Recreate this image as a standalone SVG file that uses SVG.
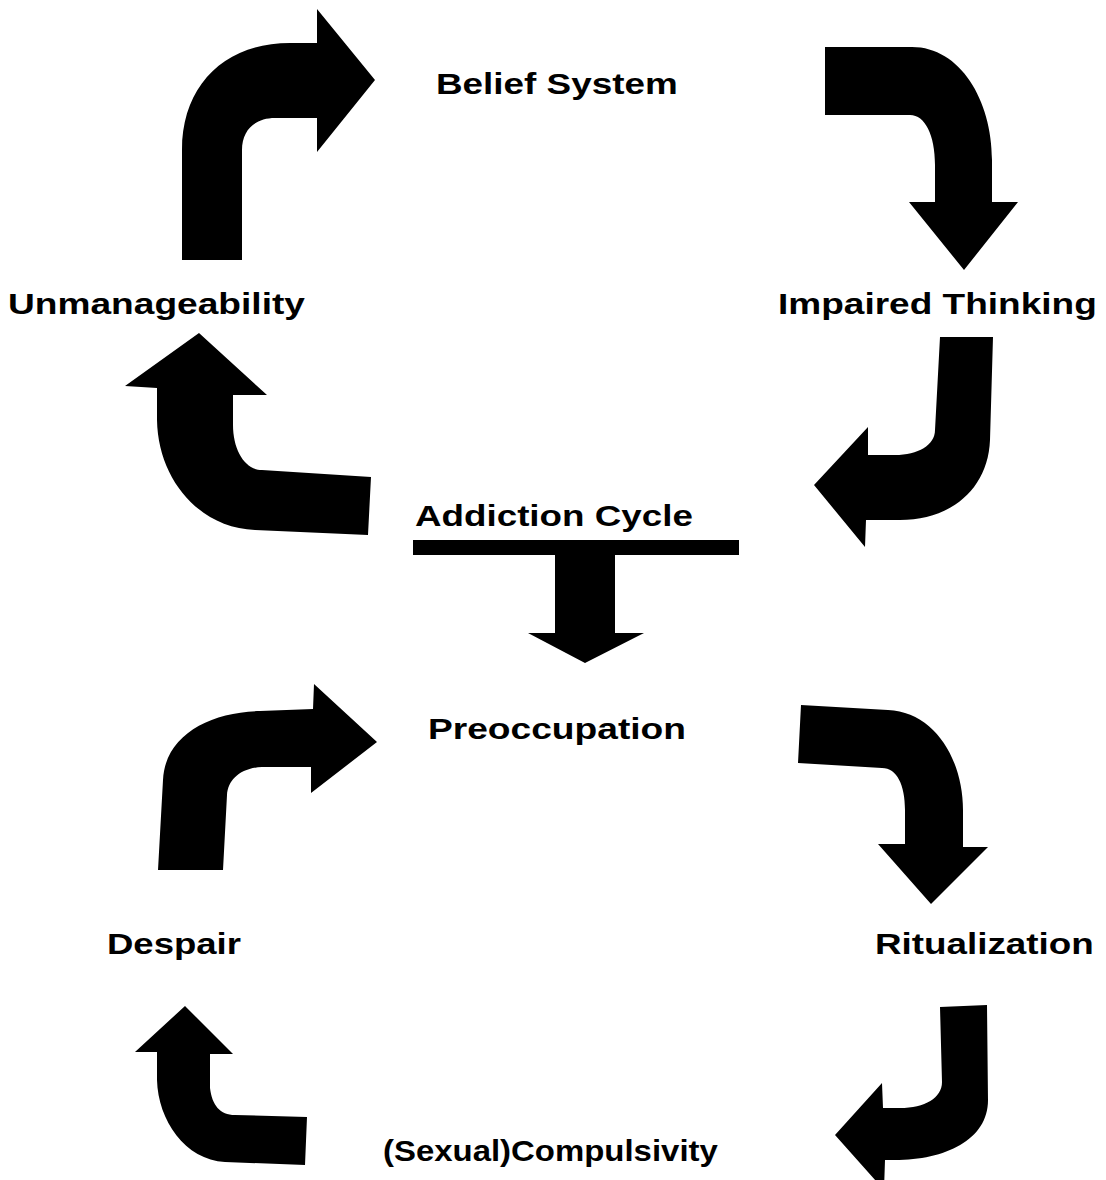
<svg xmlns="http://www.w3.org/2000/svg" width="1106" height="1180" viewBox="0 0 1106 1180">
<style>
.lbl{font-family:"Liberation Sans",Arial,sans-serif;font-weight:bold;font-size:29px;fill:#000}
.arr{fill:#000;stroke:none}
</style>
<rect width="1106" height="1180" fill="#fff"/>
<g id="connectors">
<path class="arr" d="M182,260 L182,150 C182,85 225,43 290,43 L317,43 L317,9 L375,80 L317,152 L317,118 L275,118 C255,118 242,130 242,150 L242,260 Z"/>
<path class="arr" d="M825,47 L912,47 C960,47 992,100 992,160 L992,202 L1018,202 L964,270 L909,202 L935,202 L935,165 C935,135 925,115 910,115 L825,115 Z"/>
<path class="arr" d="M940,337 L993,337 L990,440 C988,490 950,520 900,520 L866,520 L865,547 L814,485 L868,427 L868,455 L895,455 C918,455 935,445 935,430 Z"/>
<path class="arr" d="M157,388 L125,386 L199,333 L267,395 L233,395 L233,425 C233,450 245,470 262,470 L371,477 L368,535 L255,530 C200,528 158,480 157,420 Z"/>
<path class="arr" d="M413,540 L739,540 L739,555 L615,555 L615,633 L644,633 L585,663 L528,633 L555,633 L555,555 L413,555 Z"/>
<path class="arr" d="M158,870 L163,780 C165,735 210,712 260,711 L313,709 L314,684 L377,742 L311,793 L311,767 L262,767 C240,768 228,780 227,795 L223,870 Z"/>
<path class="arr" d="M801,705 L888,710 C935,712 963,760 963,810 L963,847 L988,847 L931,904 L878,844 L905,844 L905,810 C905,785 897,768 882,768 L798,763 Z"/>
<path class="arr" d="M940,1007 L987,1005 L988,1100 C988,1140 945,1160 895,1160 L885,1160 L884,1190 L835,1135 L882,1083 L883,1108 L900,1108 C925,1108 942,1098 942,1082 Z"/>
<path class="arr" d="M157,1052 L135,1052 L185,1006 L233,1054 L210,1054 L210,1088 C212,1105 220,1115 235,1115 L307,1117 L305,1165 L225,1162 C185,1160 158,1120 157,1080 Z"/>
</g>
<g id="belief-system"><text class="lbl" transform="translate(436,94) scale(1.272,1)">Belief System</text></g>
<g id="unmanageability"><text class="lbl" transform="translate(8,314) scale(1.28,1)">Unmanageability</text></g>
<g id="impaired-thinking"><text class="lbl" transform="translate(778,314) scale(1.277,1)">Impaired Thinking</text></g>
<g id="addiction-cycle"><text class="lbl" transform="translate(415,526) scale(1.268,1)">Addiction Cycle</text></g>
<g id="preoccupation"><text class="lbl" transform="translate(428,739) scale(1.281,1)">Preoccupation</text></g>
<g id="despair"><text class="lbl" transform="translate(107,954) scale(1.26,1)">Despair</text></g>
<g id="ritualization"><text class="lbl" transform="translate(875,954) scale(1.27,1)">Ritualization</text></g>
<g id="compulsivity"><text class="lbl" transform="translate(383,1161) scale(1.136,1)">(Sexual)Compulsivity</text></g>
</svg>
